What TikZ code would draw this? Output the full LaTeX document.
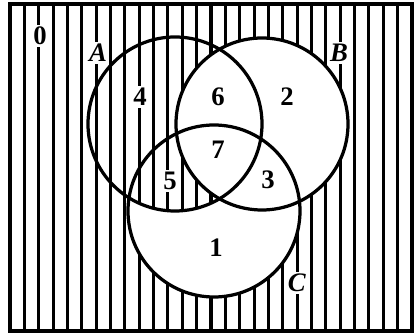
\documentclass[tikz,border=0pt]{standalone}
\usepackage{fontspec}
\setmainfont{Liberation Serif}
\usepackage{tikz}
\usetikzlibrary{positioning}

\begin{document}
\begin{tikzpicture}[x=0.025cm,y=0.025cm,
  every node/.style={font=\fontsize{19}{21}\selectfont\bfseries},
  stripe/.style={line width=2.2pt},
  rim/.style={line width=2.3pt},
  lab/.style={fill=white,inner sep=1.5pt}]
\useasboundingbox (0,0) rectangle (415,334);
% circle centres
\coordinate (ca) at (175,210);
\coordinate (cb) at (262,210);
\coordinate (cc) at (214,123);
% stripes over the whole frame
\foreach \i in {1,...,27}
  \draw[stripe] ({10+\i*402/28},3) -- ({10+\i*402/28},330);
\fill[white] (cc) circle[radius=86];
% A and C without B keeps its stripes
\begin{scope}
  \clip (ca) circle[radius=87];
  \clip (cc) circle[radius=86];
  \foreach \i in {1,...,27}
    \draw[stripe] ({10+\i*402/28},3) -- ({10+\i*402/28},330);
\end{scope}
\fill[white] (cb) circle[radius=86];
% outlines
\draw[rim] (ca) circle[radius=87];
\draw[rim] (cb) circle[radius=86];
\draw[rim] (cc) circle[radius=86];
\draw[rim] (10,3) rectangle (412,330);
% labels
\node[lab] (n0) at (40,298) {0};
\node[lab] (la) at (98,281) {\textit{A}};
\node[lab] (lb) at (339,281) {\textit{B}};
\node[lab] (lc) at (297,51) {\textit{C}};
\node[lab] (n4) at (140,237) {4};
\node (n6) at (218,237) {6};
\node (n2) at (287,237) {2};
\node (n7) at (218,184) {7};
\node[lab] (n5) at (170,153) {5};
\node (n3) at (268,154) {3};
\node (n1) at (216,86) {1};
\end{tikzpicture}
\end{document}
